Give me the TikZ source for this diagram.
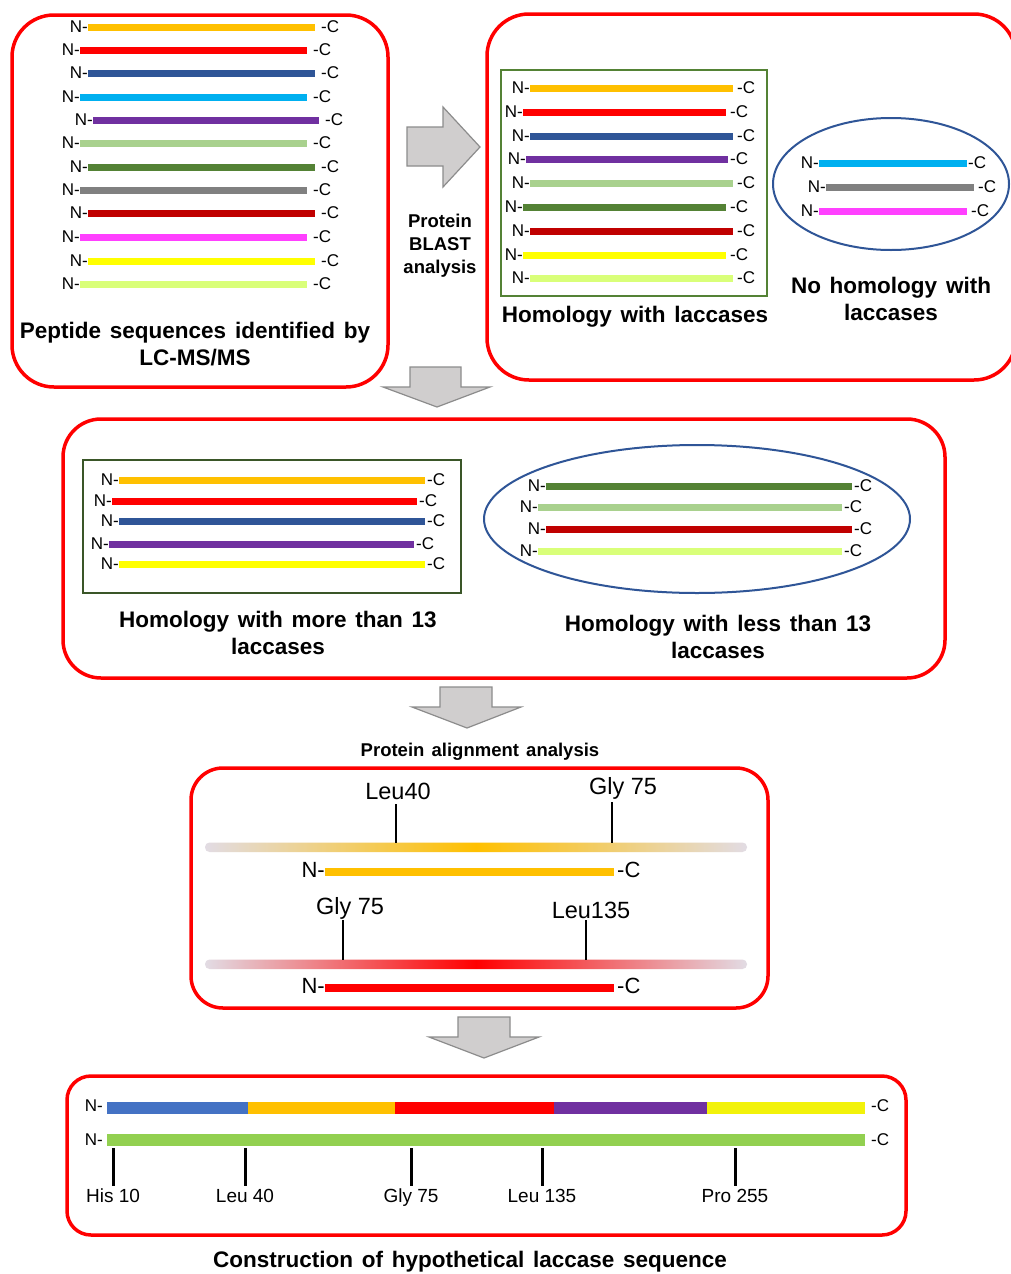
\documentclass[tikz,border=0pt]{standalone}
\usepackage{fontspec}
\setmainfont{Liberation Sans}
\newfontfamily\capfont[WordSpace=1.4]{Liberation Sans}
\usetikzlibrary{shapes.geometric}
\definecolor{cOrange}{HTML}{FFC000}
\definecolor{cRed}{HTML}{FF0000}
\definecolor{cBlue}{HTML}{2F5597}
\definecolor{cCyan}{HTML}{00B0F0}
\definecolor{cPurple}{HTML}{7030A0}
\definecolor{cLGreen}{HTML}{A9D18E}
\definecolor{cGreen}{HTML}{548235}
\definecolor{cGray}{HTML}{808080}
\definecolor{cDRed}{HTML}{C00000}
\definecolor{cMagenta}{HTML}{FF40FF}
\definecolor{cYellow}{HTML}{FFFF00}
\definecolor{cLime}{HTML}{D9FF79}
\definecolor{cBoxGreen}{HTML}{548235}
\definecolor{cBoxDGreen}{HTML}{3A5628}
\definecolor{cEll}{HTML}{2F5597}
\definecolor{cSegBlue}{HTML}{4472C4}
\definecolor{cSegYellow}{HTML}{F2F20A}
\definecolor{cBarGreen}{HTML}{92D050}
\definecolor{cFade}{HTML}{E2DCE4}
\definecolor{cArrFill}{HTML}{D0CECE}
\definecolor{cArrLine}{HTML}{8C8C8C}
\newcommand\pepbar[5][6]{%
  \draw[line width=7pt,#5] (#2,#4) -- (#3,#4);
  \node[nclab,anchor=east] at (#2,#4) {N-};
  \node[nclab,anchor=west] at ({#3+#1},#4) {-C};}
\begin{document}
\begin{tikzpicture}[x=1pt,y=-1pt,
  redbox/.style={draw=cRed,line width=3.5pt,rounded corners=#1,inner sep=0pt},
  nclab/.style={inner sep=0pt,font=\fontsize{17}{17}\selectfont},
  captxt/.style={font=\capfont\bfseries\fontsize{22.5}{27}\selectfont,align=center,inner sep=0pt},
  smalltxt/.style={font=\capfont\bfseries\fontsize{18.5}{23}\selectfont,align=center,inner sep=0pt},
  restxt/.style={font=\fontsize{23.5}{23.5}\selectfont,inner sep=0pt,anchor=base},
  nctxt/.style={font=\fontsize{22}{22}\selectfont,inner sep=0pt},
  resbtxt/.style={font=\fontsize{19}{19}\selectfont,inner sep=0pt,anchor=base},
  blockarrow/.style={fill=cArrFill,draw=cArrLine,line width=1.2pt,line join=miter},
  tickline/.style={line width=2pt,black}]
\useasboundingbox (0,0) rectangle (1011,1274);
\fill[white] (0,0) rectangle (1011,1274);

% ---------- top-left box ----------
\node[redbox=42pt,minimum width=376pt,minimum height=372pt] (b1) at (200,201) {};
\pepbar{88}{315}{27}{cOrange}
\pepbar{80}{307}{50}{cRed}
\pepbar{88}{315}{73}{cBlue}
\pepbar{80}{307}{97}{cCyan}
\pepbar{93}{319}{120}{cPurple}
\pepbar{80}{307}{143}{cLGreen}
\pepbar{88}{315}{167}{cGreen}
\pepbar{80}{307}{190}{cGray}
\pepbar{88}{315}{213}{cDRed}
\pepbar{80}{307}{237}{cMagenta}
\pepbar{88}{315}{261}{cYellow}
\pepbar{80}{307}{284}{cLime}
\node[captxt] (t1) at (195,344) {Peptide sequences identified by\\LC-MS/MS};

% ---------- arrow right ----------
\draw[blockarrow] (407,127) -- (443,127) -- (443,107) -- (480,147) -- (443,187) -- (443,166) -- (407,166) -- cycle;
\node[smalltxt] (blast) at (440,246) {Protein\\BLAST\\analysis};

% ---------- top-right box ----------
\node[redbox=42pt,minimum width=529pt,minimum height=366pt] (b2) at (751.5,197) {};
\node[draw=cBoxGreen,line width=2.5pt,minimum width=266pt,minimum height=226pt,inner sep=0pt] (g1) at (634,183) {};
\pepbar[4]{530}{733}{88}{cOrange}
\pepbar[4]{523}{726}{112}{cRed}
\pepbar[4]{530}{733}{136}{cBlue}
\pepbar[2]{526}{728}{159}{cPurple}
\pepbar[4]{530}{733}{183}{cLGreen}
\pepbar[4]{523}{726}{207}{cGreen}
\pepbar[4]{530}{733}{231}{cDRed}
\pepbar[4]{523}{726}{255}{cYellow}
\pepbar[4]{530}{733}{278}{cLime}
\node[captxt] (t2) at (635,317) {Homology with laccases};
\node[ellipse,draw=cEll,line width=2pt,minimum width=236pt,minimum height=132pt,inner sep=0pt] (e1) at (891,184) {};
\pepbar[1]{819}{967}{163}{cCyan}
\pepbar[4]{826}{974}{187}{cGray}
\pepbar[4]{819}{967}{211}{cMagenta}
\node[captxt] (t3) at (891,299) {No homology with\\laccases};

% ---------- down arrow 1 ----------
\draw[blockarrow] (410,367) -- (461,367) -- (461,387) -- (490,387) -- (437,407) -- (383,387) -- (410,387) -- cycle;

% ---------- middle box ----------
\node[redbox=38pt,minimum width=882pt,minimum height=259pt] (b3) at (504,548.5) {};
\node[draw=cBoxDGreen,line width=2.5pt,minimum width=378pt,minimum height=133pt,inner sep=0pt] (g2) at (272,526.5) {};
\pepbar[2]{119}{425}{480}{cOrange}
\pepbar[2]{112}{417}{501}{cRed}
\pepbar[2]{119}{425}{521}{cBlue}
\pepbar[2]{109}{414}{544}{cPurple}
\pepbar[2]{119}{425}{564}{cYellow}
\node[captxt] (t4) at (278,633) {Homology with more than 13\\laccases};
\node[ellipse,draw=cEll,line width=2pt,minimum width=426pt,minimum height=148pt,inner sep=0pt] (e2) at (697,519) {};
\pepbar[2]{546}{852}{486}{cGreen}
\pepbar[2]{538}{842}{507}{cLGreen}
\pepbar[2]{546}{852}{529}{cDRed}
\pepbar[2]{538}{842}{551}{cLime}
\node[captxt] (t5) at (718,637) {Homology with less than 13\\laccases};

% ---------- down arrow 2 ----------
\draw[blockarrow] (440,687) -- (492,687) -- (492,707) -- (521,707) -- (467,728) -- (412,707) -- (440,707) -- cycle;
\node[smalltxt] (t6) at (480,752) {Protein alignment analysis};

% ---------- alignment box ----------
\node[redbox=32pt,minimum width=577pt,minimum height=240pt] (b4) at (479.5,888) {};
\shade[left color=cFade,right color=cFade,middle color=cOrange,rounded corners=4.5pt] (205,842.5) rectangle (747,852);
\draw[tickline] (396,804) -- (396,843);
\draw[tickline] (612,802) -- (612,843);
\node[restxt] at (398,799.5) {Leu40};
\node[restxt] at (623,794.5) {Gly 75};
\draw[line width=8pt,cOrange] (325,872) -- (614,872);
\node[nctxt,anchor=east] at (325,870) {N-};
\node[nctxt,anchor=west] at (617,870) {-C};
\shade[left color=cFade,right color=cFade,middle color=cRed,rounded corners=4.5pt] (205,959.5) rectangle (747,969);
\draw[tickline] (343,920) -- (343,960);
\draw[tickline] (586,920) -- (586,960);
\node[restxt] at (350,914.5) {Gly 75};
\node[restxt] at (591,918.5) {Leu135};
\draw[line width=8pt,cRed] (325,988) -- (614,988);
\node[nctxt,anchor=east] at (325,986) {N-};
\node[nctxt,anchor=west] at (617,986) {-C};

% ---------- down arrow 3 ----------
\draw[blockarrow] (458,1017) -- (510,1017) -- (510,1037) -- (539,1037) -- (484,1058) -- (429,1037) -- (458,1037) -- cycle;

% ---------- bottom box ----------
\node[redbox=24pt,minimum width=839pt,minimum height=159pt] (b5) at (486.5,1155.5) {};
\fill[cSegBlue] (107,1102) rectangle (248,1114);
\fill[cOrange] (248,1102) rectangle (395,1114);
\fill[cRed] (395,1102) rectangle (554,1114);
\fill[cPurple] (554,1102) rectangle (707,1114);
\fill[cSegYellow] (707,1102) rectangle (865,1114);
\fill[cBarGreen] (107,1134) rectangle (865,1146);
\node[nclab,anchor=east] at (103,1106) {N-};
\node[nclab,anchor=west] at (871,1106) {-C};
\node[nclab,anchor=east] at (103,1140) {N-};
\node[nclab,anchor=west] at (871,1140) {-C};
\foreach \x/\lab in {113/His 10,245/Leu 40,411/Gly 75,542/Leu 135,735/Pro 255}{
  \draw[line width=3pt] (\x,1148) -- (\x,1186);
  \node[resbtxt] at (\x,1202) {\lab};
}
\node[captxt] (t7) at (470,1262) {Construction of hypothetical laccase sequence};
\end{tikzpicture}
\end{document}
